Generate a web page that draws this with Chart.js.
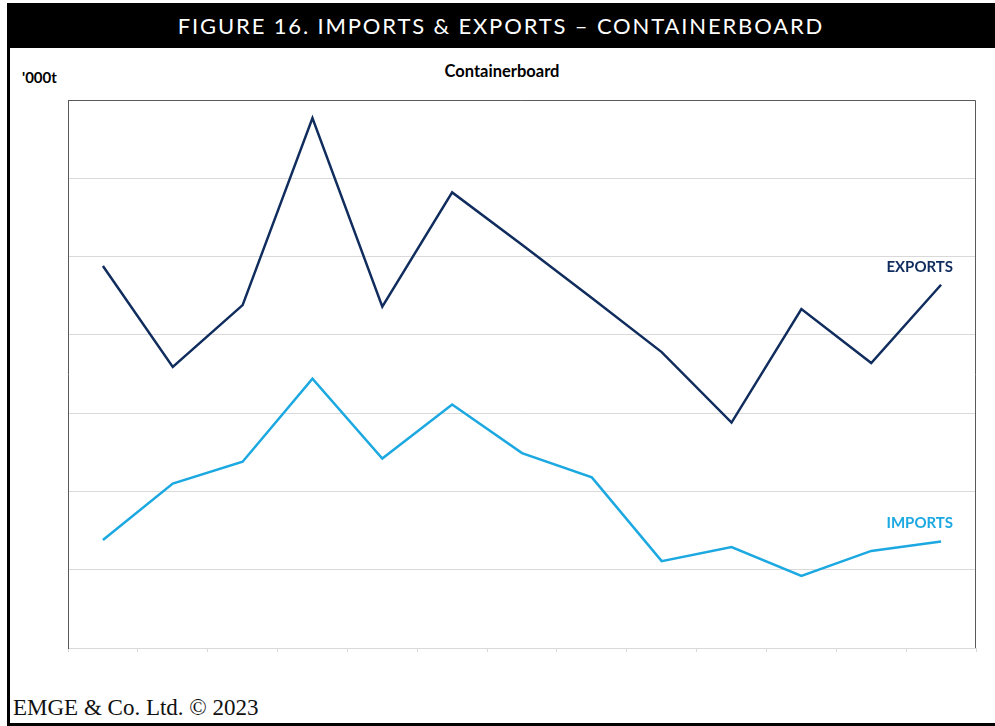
<!DOCTYPE html>
<html>
<head>
<title>Figure 16. Imports & Exports - Containerboard</title>
<meta charset="utf-8">
<script src="https://cdn.jsdelivr.net/npm/chart.js"></script>
<style>
  html, body { margin: 0; padding: 0; background: #fff; }
  #page { position: relative; width: 995px; height: 726px; overflow: hidden; }
  .bar { position: absolute; left: 7px; top: 3px; width: 988px; height: 45px; background: #000; }
  .bar span { position: absolute; left: 0; right: 0; top: 10px; text-align: center; color: #fff;
    font-family: Lato, sans-serif; font-size: 22px; letter-spacing: 1.85px; line-height: 26px; }
  .lborder { position: absolute; left: 7px; top: 48px; width: 3px; height: 678px; background: #000; }
  .bborder { position: absolute; left: 7px; top: 723px; width: 988px; height: 3px; background: #000; }
  .unit { position: absolute; left: 22px; top: 68px; font-family: Lato, sans-serif; font-weight: bold; font-size: 15px; color: #000; }
  .sub { position: absolute; left: 0; width: 1004px; top: 61px; text-align: center; font-family: Lato, sans-serif; font-weight: bold; font-size: 16.5px; color: #000; }
  .foot { position: absolute; left: 13px; top: 695px; font-family: 'Liberation Serif', serif; font-size: 23px; color: #111; }
  #wrap { position: absolute; left: 0; top: 0; width: 995px; height: 726px; }
</style>
</head>
<body>
<div id="page">
  <div class="bar"><span>FIGURE 16. IMPORTS &amp; EXPORTS – CONTAINERBOARD</span></div>
  <div class="lborder"></div>
  <div class="bborder"></div>
  <div class="unit">'000t</div>
  <div class="sub">Containerboard</div>
  <div class="foot">EMGE &amp; Co. Ltd. © 2023</div>
  <div id="wrap"><canvas id="myChart"></canvas></div>
</div>
<script>
// years (axis labels are hidden in the original)
var years = ['2010','2011','2012','2013','2014','2015','2016','2017','2018','2019','2020','2021','2022'];
// '000 tonnes
var exportsData = [488, 359, 438, 677, 436, 582, 515, 447, 378, 288, 433, 364, 464];
var importsData = [138, 210, 238, 344, 242, 311, 249, 218, 111, 129, 92, 124, 136];
var yMin = 0, yMax = 700, yStep = 100;

var navy = '#102D5E';
var sky = '#1CA8E0';

// top + right frame of the plot area
var frame = {
  id: 'frame',
  beforeDatasetsDraw: function(chart) {
    var a = chart.chartArea, c = chart.ctx;
    c.save();
    c.strokeStyle = '#5a5a5a';
    c.lineWidth = 1;
    c.beginPath();
    c.moveTo(a.left, a.top + 0.5);
    c.lineTo(a.right - 0.5, a.top + 0.5);
    c.lineTo(a.right - 0.5, a.bottom);
    c.stroke();
    c.restore();
  }
};

// series names next to the last point
var endLabels = {
  id: 'endLabels',
  afterDatasetsDraw: function(chart) {
    var c = chart.ctx;
    c.save();
    c.font = 'bold 15px Lato, sans-serif';
    c.textAlign = 'right';
    c.textBaseline = 'middle';
    chart.data.datasets.forEach(function(ds, i) {
      var pts = chart.getDatasetMeta(i).data;
      var p = pts[pts.length - 1];
      c.fillStyle = ds.borderColor;
      c.fillText(ds.label, p.x + 12, p.y - 18);
    });
    c.restore();
  }
};

var ctx = document.getElementById('myChart').getContext('2d');
var myChart = new Chart(ctx, {
  type: 'line',
  data: {
    labels: years,
    datasets: [{
      label: 'EXPORTS',
      data: exportsData,
      borderColor: navy,
      borderWidth: 2.5,
      pointRadius: 0,
      tension: 0,
      fill: false
    }, {
      label: 'IMPORTS',
      data: importsData,
      borderColor: sky,
      borderWidth: 2.5,
      pointRadius: 0,
      tension: 0,
      fill: false
    }]
  },
  options: {
    responsive: true,
    maintainAspectRatio: false,
    animation: false,
    layout: { padding: { left: 68, top: 100, right: 19, bottom: 74 } },
    plugins: { legend: { display: false }, tooltip: { enabled: false } },
    scales: {
      x: {
        offset: true,
        ticks: { display: false },
        grid: { offset: true, drawOnChartArea: false, drawTicks: true, tickLength: 4, color: '#d9d9d9' },
        border: { color: '#d9d9d9', width: 1 }
      },
      y: {
        min: yMin, max: yMax,
        ticks: { display: false, stepSize: yStep },
        grid: { color: '#d9d9d9', drawTicks: false },
        border: { color: '#5a5a5a', width: 1 }
      }
    }
  },
  plugins: [frame, endLabels]
});
</script>
</body>
</html>
